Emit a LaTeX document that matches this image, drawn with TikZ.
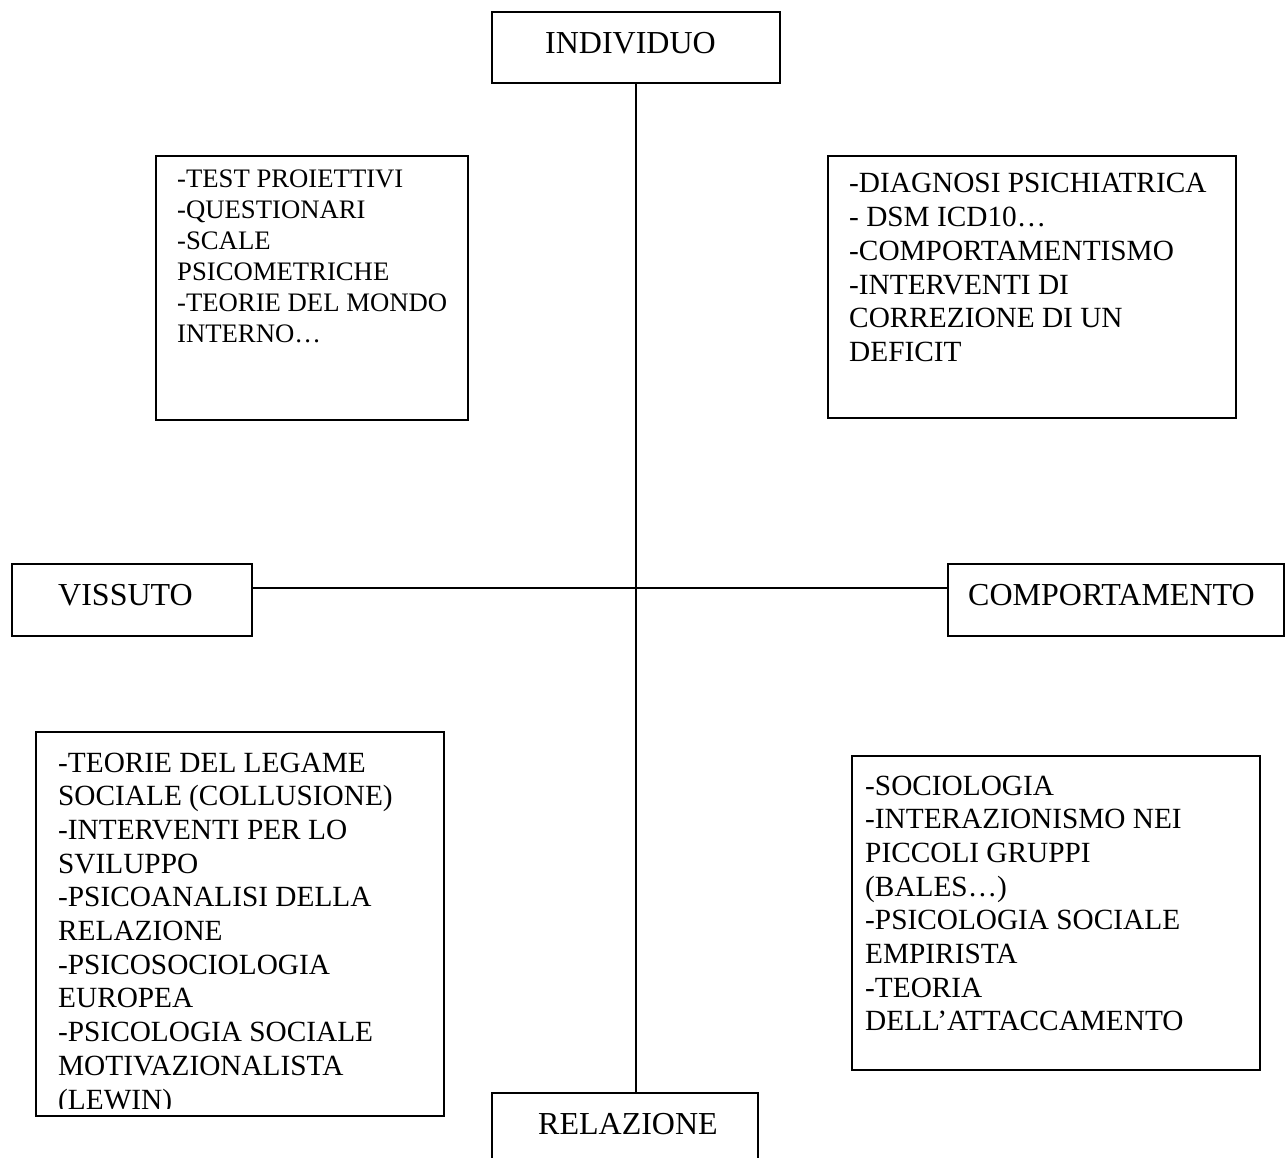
\documentclass[tikz,border=0pt]{standalone}
\usepackage{fontspec}
\setmainfont{Liberation Serif}
\usetikzlibrary{calc}
\begin{document}
\begin{tikzpicture}[x=1pt,y=-1pt,
  box/.style={draw, line width=1.5pt, inner sep=0pt, outer sep=0pt, fill=none},
  conn/.style={line width=1.5pt},
  lbl/.style={anchor=base west, inner sep=0pt, font=\fontsize{32}{38}\selectfont},
  txt/.style={anchor=base west, inner sep=0pt, font=\fontsize{29.3}{33.7}\selectfont},
  txtsmall/.style={anchor=base west, inner sep=0pt, font=\fontsize{26.7}{31}\selectfont}]
\clip (0,0) rectangle (1287,1158);
% boxes
\node[box, minimum width=288pt, minimum height=71pt] (ind) at (636,47.5) {};
\node[box, minimum width=312pt, minimum height=264pt] (tl) at (312,288) {};
\node[box, minimum width=408pt, minimum height=262pt] (tr) at (1032,287) {};
\node[box, minimum width=240pt, minimum height=72pt] (viss) at (132,600) {};
\node[box, minimum width=336pt, minimum height=72pt] (comp) at (1116,600) {};
\node[box, minimum width=408pt, minimum height=384pt] (bl) at (240,924) {};
\node[box, minimum width=408pt, minimum height=314pt] (br) at (1056,913) {};
\node[box, minimum width=266pt, minimum height=90pt] (rel) at (625,1138) {};
% connectors
\draw[conn] (ind.south) -- (ind.south |- rel.north);
\draw[conn] ($(viss.north east)!0.333!(viss.south east)$) -- ($(comp.north west)!0.333!(comp.south west)$);
% labels
\node[lbl] (indt) at (545,54) {INDIVIDUO};
\node[lbl] (visst) at (58,605) {VISSUTO};
\node[lbl] (compt) at (968,605) {COMPORTAMENTO};
\node[lbl] (relt) at (538,1134) {RELAZIONE};
% box texts
\node[txtsmall] (tlt) at (177,188) {\begin{tabular}[t]{@{}l@{}}-TEST PROIETTIVI\\-QUESTIONARI\\-SCALE\\PSICOMETRICHE\\-TEORIE DEL MONDO\\INTERNO…\end{tabular}};
\node[txt] (trt) at (849,193) {\begin{tabular}[t]{@{}l@{}}-DIAGNOSI PSICHIATRICA\\- DSM ICD10…\\-COMPORTAMENTISMO\\-INTERVENTI DI\\CORREZIONE DI UN\\DEFICIT\end{tabular}};
\begin{scope}
\clip (bl.north west) rectangle ($(bl.south east)+(0,-8)$);
\node[txt] (blt) at (58,772) {\begin{tabular}[t]{@{}l@{}}-TEORIE DEL LEGAME\\SOCIALE (COLLUSIONE)\\-INTERVENTI PER LO\\SVILUPPO\\-PSICOANALISI DELLA\\RELAZIONE\\-PSICOSOCIOLOGIA\\EUROPEA\\-PSICOLOGIA SOCIALE\\MOTIVAZIONALISTA\\(LEWIN)\end{tabular}};
\end{scope}
\node[txt] (brt) at (865,795) {\begin{tabular}[t]{@{}l@{}}-SOCIOLOGIA\\-INTERAZIONISMO NEI\\PICCOLI GRUPPI\\(BALES…)\\-PSICOLOGIA SOCIALE\\EMPIRISTA\\-TEORIA\\DELL’ATTACCAMENTO\end{tabular}};
\end{tikzpicture}
\end{document}
